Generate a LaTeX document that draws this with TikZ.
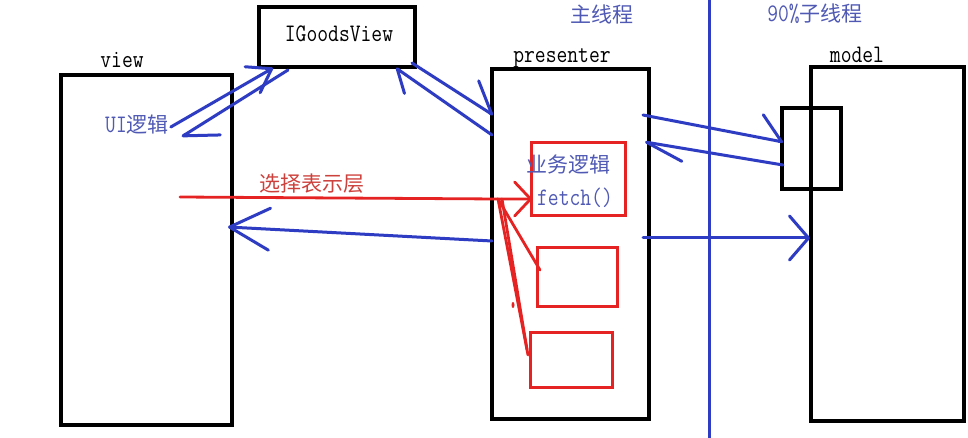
\documentclass[tikz,border=0pt]{standalone}
\usepackage{fontspec}
\newfontfamily\cjk{Noto Sans CJK SC}
\usetikzlibrary{arrows.meta,calc}
\definecolor{lblue}{RGB}{45,60,195}
\definecolor{tblue}{RGB}{80,90,180}
\definecolor{lred}{RGB}{230,35,35}
\definecolor{tred}{RGB}{205,65,60}
\newcommand{\lat}[1]{\scalebox{1}[1.2]{\ttfamily\fontsize{21}{24}\selectfont #1}}
\newcommand{\han}[1]{{\cjk\fontsize{21}{24}\selectfont #1}}
\tikzset{
  blackbox/.style={draw=black,line width=3.5pt,rectangle,inner sep=0pt,outer sep=0pt},
  redbox/.style={draw=lred,line width=3pt,rectangle,inner sep=0pt,outer sep=0pt},
  bline/.style={draw=lblue,line width=3pt,line cap=round},
  rline/.style={draw=lred,line width=2.8pt,line cap=round},
  lbl/.style={inner sep=0pt,outer sep=0pt},
}
\begin{document}
\begin{tikzpicture}[x=1pt,y=-1pt]
\useasboundingbox[fill=white] (0,0) rectangle (968,438);
% boxes
\node[blackbox,minimum width=171pt,minimum height=350pt] (view) at (146.5,250) {};
\node[blackbox,minimum width=156pt,minimum height=60pt] (igv) at (337,37) {};
\node[blackbox,minimum width=157pt,minimum height=350pt] (pres) at (570.5,244) {};
\node[blackbox,minimum width=153pt,minimum height=354pt] (model) at (887.5,244) {};
\node[blackbox,minimum width=59pt,minimum height=81pt] (small) at (811.5,148.5) {};
\node[redbox,minimum width=94pt,minimum height=73pt] (r1) at (578,179.5) {};
\node[redbox,minimum width=80pt,minimum height=59pt] (r2) at (577,276.5) {};
\node[redbox,minimum width=82pt,minimum height=55pt] (r3) at (571,359.5) {};
% labels
\node[lbl,anchor=base] (lview) at (122,68) {\lat{view}};
\node[lbl,anchor=base] (ligv) at (339,42) {\lat{IGoodsView}};
\node[lbl,anchor=base] (lpres) at (562,63) {\lat{presenter}};
\node[lbl,anchor=base] (lmodel) at (857,63) {\lat{model}};
\node[lbl,text=tblue] (main) at (602,14) {\han{主线程}};
\node[lbl,text=tblue] (sub) at (815,14) {\lat{90\%}\han{子线程}};
\node[lbl,text=tblue] (ui) at (137,125) {\lat{UI}\han{逻辑}};
\node[lbl,text=tred] (sel) at (312,184) {\han{选择表示层}};
\node[lbl,text=tblue] (biz) at (568,165) {\han{业务逻辑}};
\node[lbl,text=tblue] (fetch) at (575,198) {\lat{fetch()}};
% thread divider
\coordinate (vt) at (709,0);
\coordinate (vb) at (709,438);
\draw[bline,line cap=butt] (vt) -- (vb);
% blue arrows
\draw[bline,-{Straight Barb[length=22pt,width=30pt,round]}] ($(ui.east)+(2,2)$) -- ($(igv.south west)+(14,1)$);
\draw[bline,-{Straight Barb[length=32pt,width=38pt,left,round]}] ($(igv.south west)+(29,3)$) -- ($(ui.south east)+(13,2)$);
\draw[bline,-{Straight Barb[length=29pt,width=42pt,left,round]}] ($(igv.south east)+(-3,-4)$) -- ($(pres.north west)+(1,46)$);
\draw[bline,-{Straight Barb[length=20pt,width=32pt,left,round]}] ($(pres.north west)+(0,66)$) -- ($(igv.south east)+(-19,1)$);
\draw[bline,-{Straight Barb[length=23pt,width=46pt,left,round]}] ($(pres.north east)+(-6,46)$) -- ($(small.west)+(1,-6.5)$);
\draw[bline,-{Straight Barb[length=38pt,width=26pt,left,round]}] ($(small.west)+(1,16.5)$) -- ($(pres.north east)+(-4,73)$);
\draw[bline,-{Straight Barb[length=19pt,width=44pt,round]}] ($(pres.east)+(-6,-6)$) -- ($(model.west)+(-1,-6)$);
\draw[bline,-{Straight Barb[length=40pt,width=42pt,round]}] ($(pres.west)+(0,-3)$) -- ($(view.east)+(-4,-23)$);
% red arrows
\coordinate (rs) at (180,197);
\coordinate (rj) at ($(pres.west)+(6,-45)$);
\draw[rline,-{Straight Barb[length=16pt,width=34pt,round]}] (rs) -- (rj) -- ($(r1.west)+(1,19.5)$);
\draw[rline] (rj) -- ($(r2.west)+(3,-6.5)$);
\draw[rline] (rj) -- ($(r3.west)+(-2,-4.5)$);
\draw[rline] ($(rj)+(4,0)$) -- ($(r3.west)+(-3,-10)$);
\coordinate (rdot) at (513,305);
\fill[lred] (rdot) ellipse (1.5pt and 3pt);
\end{tikzpicture}
\end{document}
